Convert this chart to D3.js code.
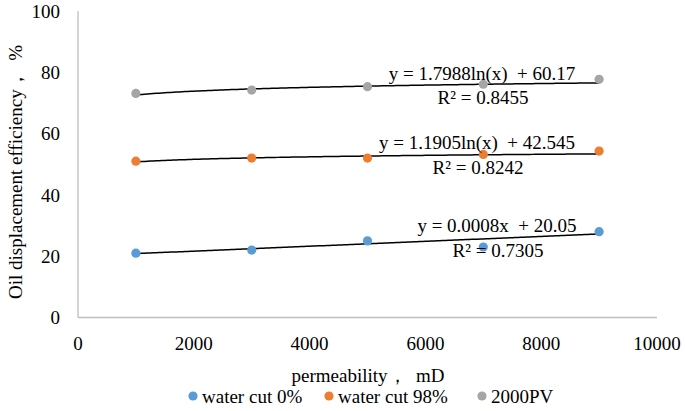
<!DOCTYPE html>
<html>
<head>
<meta charset="utf-8">
<script src="https://cdn.jsdelivr.net/npm/d3@7"></script>
<style>
  html, body { margin: 0; padding: 0; background: #fff; }
  svg { display: block; }
  svg text { font-family: "Liberation Serif", "Times New Roman", "DejaVu Serif", serif; fill: #000; white-space: pre; }
</style>
</head>
<body>
<svg id="chart" width="685" height="411" font-family="Liberation Serif, Times New Roman, serif"></svg>
<script>
// ---- data ----
const permeability = [1000, 3000, 5000, 7000, 9000];
const waterCut0 = [21, 22, 25, 23, 28];
const waterCut98 = [51, 52, 52, 53.2, 54.3];
const pv2000 = [73.1, 74.2, 75.3, 76.1, 77.7];
const seriesNames = ["water cut 0%", "water cut 98%", "2000PV"];
const seriesColors = ["#5B9BD5", "#ED7D31", "#A5A5A5"];
const trendTypes = ["linear", "log", "log"];
const trendA = [0.0008, 1.1905, 1.7988];
const trendB = [20.05, 42.545, 60.17];
const trendEq = ["y = 0.0008x  + 20.05", "y = 1.1905ln(x)  + 42.545", "y = 1.7988ln(x)  + 60.17"];
const trendR2 = ["R² = 0.7305", "R² = 0.8242", "R² = 0.8455"];
const xTicks = [0, 2000, 4000, 6000, 8000, 10000];
const yTicks = [0, 20, 40, 60, 80, 100];
const xTitle = "permeability，  mD";
const yTitle = "Oil displacement efficiency，  %";

// ---- layout ----
const svg = d3.select("#chart");
const x = d3.scaleLinear().domain([0, 10000]).range([78, 657]);
const y = d3.scaleLinear().domain([0, 100]).range([317.5, 11]);
const fs = 19;
const FF = "Liberation Serif, Times New Roman, serif";

function txt(sel) {
  return sel.attr("font-family", FF).attr("font-size", fs).attr("xml:space", "preserve");
}

// axes lines
svg.append("line").attr("x1", x(0)).attr("x2", x(0)).attr("y1", y(100)).attr("y2", y(0))
  .attr("stroke", "#BFBFBF").attr("stroke-width", 1.3);
svg.append("line").attr("x1", x(0)).attr("x2", x(10000)).attr("y1", y(0)).attr("y2", y(0))
  .attr("stroke", "#BFBFBF").attr("stroke-width", 1.3);

// tick labels
txt(svg.selectAll(".yt").data(yTicks).enter().append("text"))
  .attr("x", 60).attr("y", d => y(d)).attr("dy", "0.35em")
  .attr("text-anchor", "end").text(d => d);
txt(svg.selectAll(".xt").data(xTicks).enter().append("text"))
  .attr("x", d => x(d)).attr("y", 343).attr("dy", "0.35em")
  .attr("text-anchor", "middle").text(d => d);

// axis titles
txt(svg.append("text")).attr("x", 368).attr("y", 375).attr("dy", "0.35em")
  .attr("text-anchor", "middle").text(xTitle);
txt(svg.append("text")).attr("transform", "translate(15,172) rotate(-90)").attr("dy", "0.35em")
  .attr("text-anchor", "middle").text(yTitle);

const allSeries = [waterCut0, waterCut98, pv2000];

// trendlines
const xs = d3.range(1000, 9000 + 1, 50);
const line = d3.line().x(d => x(d[0])).y(d => y(d[1]));
allSeries.forEach((s, i) => {
  const f = trendTypes[i] === "log" ? (v => trendA[i] * Math.log(v) + trendB[i]) : (v => trendA[i] * v + trendB[i]);
  svg.append("path").datum(xs.map(v => [v, f(v)]))
    .attr("d", line).attr("fill", "none").attr("stroke", "#000").attr("stroke-width", 1.5);
});

// points
allSeries.forEach((s, i) => {
  svg.selectAll(".p" + i).data(s).enter().append("circle")
    .attr("cx", (d, j) => x(permeability[j])).attr("cy", d => y(d))
    .attr("r", 4.6).attr("fill", seriesColors[i]);
});

// equation labels
const eqPos = [[497, 225, 498, 250], [477, 142, 478, 167], [482, 73, 483, 97]];
allSeries.forEach((s, i) => {
  txt(svg.append("text")).attr("x", eqPos[i][0]).attr("y", eqPos[i][1]).attr("dy", "0.35em")
    .attr("text-anchor", "middle").text(trendEq[i]);
  txt(svg.append("text")).attr("x", eqPos[i][2]).attr("y", eqPos[i][3]).attr("dy", "0.35em")
    .attr("text-anchor", "middle").text(trendR2[i]);
});

// legend
const legX = [193, 329, 482];
seriesNames.forEach((n, i) => {
  svg.append("circle").attr("cx", legX[i]).attr("cy", 396).attr("r", 4.6).attr("fill", seriesColors[i]);
  txt(svg.append("text")).attr("x", legX[i] + 9).attr("y", 396).attr("dy", "0.35em").text(n);
});
</script>
</body>
</html>
